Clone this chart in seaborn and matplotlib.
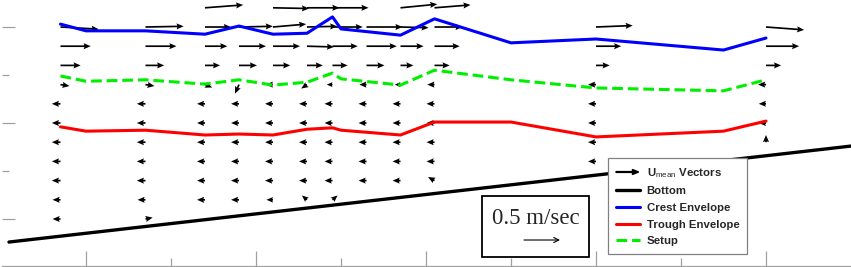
import numpy as np
import matplotlib
matplotlib.use("Agg")
import matplotlib.pyplot as plt
import seaborn as sns
import matplotlib.patches as mpatches
from matplotlib.legend_handler import HandlerPatch
from matplotlib.lines import Line2D

n = np.nan
# vector grid: columns (cross-shore position) and rows (elevation)
col_x = [-0.3, 0.7, 1.4, 1.8, 2.2, 2.6, 2.9, 3.3, 3.7, 4.1, 6.0, 8.0]
row_z = [0.04, 0.0, -0.04, -0.08, -0.12, -0.16, -0.20, -0.24, -0.28, -0.32, -0.36, -0.40]
u_mean = [
    [n, n, 0.53, n, 0.50, 0.45, 0.50, n, 0.51, 0.50, n, n],
    [0.53, 0.53, 0.36, 0.47, 0.46, 0.42, 0.42, 0.50, 0.39, 0.39, 0.51, 0.53],
    [0.42, 0.43, 0.31, 0.375, 0.375, 0.375, 0.35, 0.42, 0.32, 0.35, 0.35, 0.46],
    [0.28, 0.26, 0.21, 0.25, 0.24, 0.22, 0.21, 0.25, 0.18, 0.21, 0.19, 0.21],
    [0.125, 0.125, 0.10, -0.055, -0.10, -0.08, -0.08, -0.10, -0.08, -0.10, -0.11, -0.11],
    [-0.12, -0.12, -0.11, -0.11, -0.11, -0.11, -0.11, -0.11, -0.11, -0.11, -0.11, -0.10],
    [-0.12, -0.12, -0.11, -0.11, -0.11, -0.11, -0.11, -0.11, -0.11, -0.11, -0.11, -0.10],
    [-0.12, -0.12, -0.11, -0.11, -0.11, -0.11, -0.11, -0.11, -0.11, -0.11, -0.11, 0.0],
    [-0.12, -0.12, -0.11, -0.11, -0.11, -0.11, -0.11, -0.11, -0.11, -0.11, -0.11, n],
    [-0.12, -0.12, -0.11, -0.11, -0.11, -0.11, -0.11, -0.11, -0.11, -0.09, n, n],
    [-0.11, -0.11, -0.11, -0.11, -0.09, -0.07, 0.07, n, n, n, n, n],
    [-0.11, 0.10, n, n, n, n, n, n, n, n, n, n],
]
v_mean = [
    [n, n, 0.04, n, -0.01, 0.0, 0.0, n, 0.05, 0.04, n, n],
    [-0.03, 0.01, 0.0, 0.01, 0.04, 0.01, 0.0, 0.0, -0.01, 0.0, 0.02, -0.04],
    [0.0, 0.0, 0.0, 0.0, 0.0, -0.01, 0.0, 0.0, 0.0, 0.0, 0.0, 0.0],
    [0.0, 0.0, 0.0, 0.0, 0.0, 0.0, 0.0, 0.0, 0.0, 0.0, 0.0, 0.0],
    [-0.02, -0.02, -0.04, -0.125, 0.0, -0.055, 0.0, 0.0, 0.0, 0.0, 0.0, 0.0],
    [0.0, 0.0, 0.0, 0.0, 0.0, 0.0, 0.0, 0.0, 0.0, 0.0, 0.0, 0.0],
    [0.0, 0.0, 0.0, 0.0, 0.0, 0.0, 0.0, 0.0, 0.0, 0.0, 0.0, 0.0],
    [0.0, 0.0, 0.0, 0.0, 0.0, 0.0, 0.0, 0.0, 0.0, 0.0, 0.0, 0.10],
    [0.0, 0.0, 0.0, 0.0, 0.0, 0.0, 0.0, 0.0, 0.0, 0.0, 0.0, n],
    [0.0, 0.0, 0.0, 0.0, 0.0, 0.0, 0.0, 0.0, 0.0, 0.05, n, n],
    [0.0, 0.0, 0.0, 0.0, 0.0, 0.06, 0.06, n, n, n, n, n],
    [0.0, 0.02, n, n, n, n, n, n, n, n, n, n],
]

# envelopes
env_x = [-0.3, 0.0, 0.7, 1.4, 1.8, 2.2, 2.6, 2.9, 3.0, 3.7, 4.1, 5.0, 6.0, 7.5, 8.0]
crest = [0.006, -0.008, -0.008, -0.015, 0.002, -0.015, -0.013, 0.021, -0.004,
         -0.017, 0.017, -0.033, -0.025, -0.048, -0.023]
trough = [-0.208, -0.217, -0.215, -0.225, -0.223, -0.225, -0.213, -0.210, -0.215,
          -0.225, -0.198, -0.198, -0.229, -0.217, -0.196]
setup = [-0.102, -0.113, -0.110, -0.119, -0.110, -0.121, -0.115, -0.096, -0.108,
         -0.121, -0.090, -0.110, -0.127, -0.133, -0.110]
bed_x = [-0.906, 9.2]
bed_z = [-0.448, -0.244]

ref_speed = 0.5
legend_labels = ["U$_{\\rm mean}$ Vectors", "Bottom", "Crest Envelope", "Trough Envelope", "Setup"]

sns.set_theme(style="white")
plt.rcParams["font.family"] = ["Liberation Sans", "DejaVu Sans"]
plt.rcParams["mathtext.fontset"] = "custom"
plt.rcParams["mathtext.rm"] = "Liberation Sans"

W, H = 851, 267
fig = plt.figure(figsize=(W / 100, H / 100), dpi=100)
ax = fig.add_axes([2 / W, 1 / H, 849 / W, 266 / H])
ax.set_xlim(-0.988, 9.0)
ax.set_ylim(-0.4979, 0.05625)

# vectors
X, Y = np.meshgrid(col_x, row_z)
U = np.array(u_mean, dtype=float)
V = np.array(v_mean, dtype=float)
m = ~np.isnan(U)
SCALE = ref_speed / (36 / 85)
ax.quiver(X[m], Y[m], U[m], V[m], angles="uv", scale_units="x", scale=SCALE,
          pivot="tail", width=0.0020, headwidth=3.6, headlength=4.2,
          headaxislength=3.7, color="black", zorder=2)

# lines
sns.lineplot(x=bed_x, y=bed_z, ax=ax, color="black", lw=2.4, estimator=None, zorder=3)
sns.lineplot(x=env_x, y=crest, ax=ax, color="#0000ff", lw=2.2, estimator=None, zorder=3)
sns.lineplot(x=env_x, y=trough, ax=ax, color="#ff0000", lw=2.2, estimator=None, zorder=3)
sns.lineplot(x=env_x, y=setup, ax=ax, color="#00ee00", lw=2.2, estimator=None, zorder=3)
ax.lines[-1].set_dashes([3.5, 1.6])

# axes styling
for s in ["left", "top", "right"]:
    ax.spines[s].set_visible(False)
ax.spines["bottom"].set_color("#a0a0a0")
ax.spines["bottom"].set_linewidth(0.9)
ax.set_xticks([0, 2, 4, 6, 8])
ax.set_xticks([1, 3, 5, 7], minor=True)
ax.set_yticks([-0.4, -0.2, 0.0])
ax.set_yticks([-0.3, -0.1], minor=True)
ax.tick_params(which="both", direction="in", color="#a0a0a0", width=0.9,
               labelbottom=False, labelleft=False, bottom=True, left=True)
ax.tick_params(axis="x", which="major", length=10.8)
ax.tick_params(axis="x", which="minor", length=5.8)
ax.tick_params(axis="y", which="major", length=9.4)
ax.tick_params(axis="y", which="minor", length=5.0)
ax.set_xlabel("")
ax.set_ylabel("")

# legend
def make_arrow(legend, orig_handle, xdescent, ydescent, width, height, fontsize):
    return mpatches.FancyArrow(0, 0.5 * height, width * 0.95, 0, width=0.6,
                               head_width=3.6, head_length=4.5,
                               length_includes_head=True, color="black")

arrow_handle = mpatches.FancyArrow(0, 0, 1, 0, color="black")
handles = [
    arrow_handle,
    Line2D([], [], color="black", lw=2.4),
    Line2D([], [], color="#0000ff", lw=2.2),
    Line2D([], [], color="#ff0000", lw=2.2),
    Line2D([], [], color="#00ee00", lw=2.2, dashes=[3.5, 1.6]),
]
leg = ax.legend(handles, legend_labels, loc="upper left",
                bbox_to_anchor=(608 / W, 1 - 158 / H), bbox_transform=fig.transFigure,
                prop={"family": "Liberation Sans", "weight": "bold", "size": 8.2},
                frameon=True, fancybox=False, edgecolor="#808080", framealpha=1,
                handlelength=2.1, handletextpad=0.6, labelspacing=0.58,
                borderpad=0.7, borderaxespad=0,
                handler_map={mpatches.FancyArrow: HandlerPatch(patch_func=make_arrow)})
leg.get_frame().set_linewidth(0.9)
leg.set_zorder(5)

# reference vector box
fig.add_artist(mpatches.Rectangle((482 / W, 1 - 257 / H), 107 / W, 61 / H,
                                  transform=fig.transFigure, fill=False,
                                  ec="black", lw=1.3))
fig.text(536 / W, 1 - 219 / H, "0.5 m/sec", ha="center", va="center",
         fontsize=16.5, family="Liberation Serif")
x0 = (524 - 86) / 85
y0 = -0.4 + (219 - 240) / 480
ax.annotate("", xy=(x0 + ref_speed / SCALE, y0), xytext=(x0, y0),
            arrowprops=dict(arrowstyle="->", lw=0.8, color="black",
                            shrinkA=0, shrinkB=0, mutation_scale=9))

fig.savefig("out.png", dpi=100)
